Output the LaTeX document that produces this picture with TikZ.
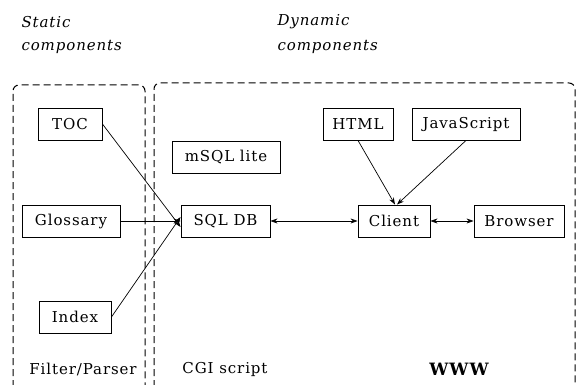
\documentclass[tikz,border=0pt]{standalone}
\usepackage{fontspec}
\setmainfont{DejaVu Serif}[LetterSpace=6]
\usetikzlibrary{arrows.meta}
\begin{document}
\begin{tikzpicture}[x=1pt,y=-1pt,
  every node/.style={font=\fontsize{15}{17}\selectfont},
  box/.style={draw,line width=0.9pt,minimum height=32pt,inner sep=2pt},
  grp/.style={draw,dashed,dash pattern=on 7pt off 4pt,line width=1pt,rounded corners=6pt},
  conn/.style={line width=0.7pt,-{Stealth[length=7pt,width=5pt]}},
  bconn/.style={line width=0.7pt,{Stealth[length=7pt,width=5pt]}-{Stealth[length=7pt,width=5pt]}},
  lbl/.style={font=\fontsize{15}{17}\selectfont\itshape,anchor=west}]
\useasboundingbox (0,0) rectangle (578,385);
\clip (0,0) rectangle (578,385);
% group frames
\draw[grp] (13,420) -- (13,85) -- (145,85) -- (145,420);
\draw[grp] (154,420) -- (154,83) -- (575,83) -- (575,420);
% headings
\node[lbl] (st1) at (18,22) {Static};
\node[lbl] (st2) at (18,47) {components};
\node[lbl] (dy1) at (274,22) {Dynamic};
\node[lbl] (dy2) at (274,47) {components};
% boxes
\node[box,minimum width=64pt] (toc) at (70,124) {TOC};
\node[box,minimum width=108pt] (msql) at (226,157) {mSQL lite};
\node[box,minimum width=70pt] (html) at (358,124) {HTML};
\node[box,minimum width=108pt] (js) at (466,124) {JavaScript};
\node[box,minimum width=98pt] (glos) at (71,221) {Glossary};
\node[box,minimum width=89pt] (sql) at (225.5,221) {SQL DB};
\node[box,minimum width=72pt] (client) at (394,221) {Client};
\node[box,minimum width=90pt] (browser) at (519,221) {Browser};
\node[box,minimum width=72pt] (index) at (75,317) {Index};
% bottom labels
\node (fp) at (83,369) {Filter/Parser};
\node (cgi) at (225,369) {CGI script};
\node[font=\fontsize{17}{19}\selectfont\bfseries] (www) at (459,369) {WWW};
% connectors
\draw[conn] (toc.east) -- ([yshift=-6pt]sql.west);
\draw[conn] (glos.east) -- (sql.west);
\draw[conn] (index.east) -- ([yshift=4pt]sql.west);
\draw[bconn] (sql.east) -- (client.west);
\draw[bconn] (client.east) -- (browser.west);
\draw[conn] (html.south) -- ([xshift=1pt]client.north);
\draw[conn] (js.south) -- ([xshift=3pt]client.north);
\end{tikzpicture}
\end{document}
